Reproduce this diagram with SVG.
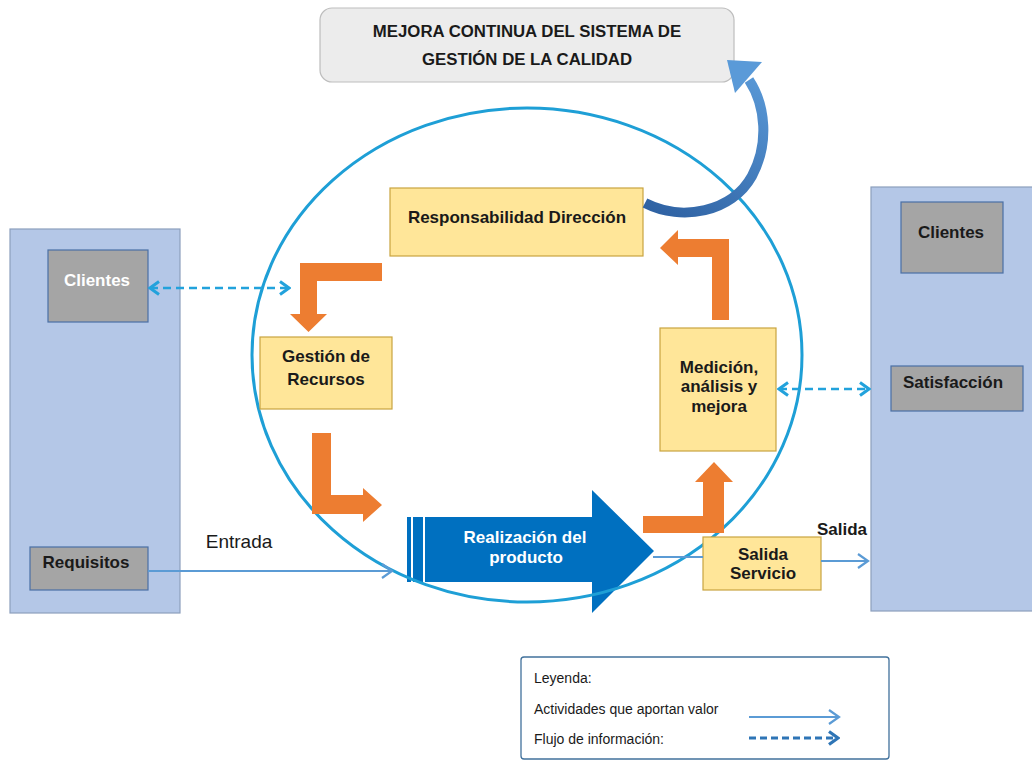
<svg xmlns="http://www.w3.org/2000/svg" width="1032" height="761" viewBox="0 0 1032 761">
<defs>
<style>
.lbl{font-family:"Liberation Sans",Arial,sans-serif;font-weight:bold;font-size:17px;fill:#1a1a1a;text-anchor:middle}
.wh{fill:#ffffff}
.panel{fill:#b4c7e7;stroke:#8c9fbd;stroke-width:1.2}
.gray{fill:#a5a5a5;stroke:#4a6fa5;stroke-width:1.2}
.yel{fill:#ffe699;stroke:#c9a440;stroke-width:1.2}
.orange{fill:#ed7d31}
.val{stroke:#5b9bd5;stroke-width:2.2;fill:none}
.info{stroke:#22a2dc;stroke-width:2.5;stroke-dasharray:8 5;fill:none}
.leg{font-family:"Liberation Sans",Arial,sans-serif;font-size:14px;fill:#1a1a1a}
</style>
<marker id="openArr" markerUnits="userSpaceOnUse" markerWidth="14" markerHeight="16" refX="12" refY="8" orient="auto">
<path d="M2,1 L12,8 L2,15" fill="none" stroke="#5b9bd5" stroke-width="2.2"/>
</marker>
<marker id="infoArr" markerUnits="userSpaceOnUse" markerWidth="14" markerHeight="16" refX="12" refY="8" orient="auto-start-reverse">
<path d="M3,1.5 L12,8 L3,14.5" fill="none" stroke="#22a2dc" stroke-width="3"/>
</marker>
<marker id="legInfo" markerUnits="userSpaceOnUse" markerWidth="14" markerHeight="16" refX="12" refY="8" orient="auto">
<path d="M3,1.5 L12,8 L3,14.5" fill="none" stroke="#2e75b6" stroke-width="3.2"/>
</marker>
<linearGradient id="curveGrad" gradientUnits="userSpaceOnUse" x1="650" y1="210" x2="745" y2="60">
<stop offset="0" stop-color="#2f62a3"/>
<stop offset="1" stop-color="#5a9ad8"/>
</linearGradient>
</defs>
<rect width="1032" height="761" fill="#ffffff"/>

<g id="mejora-continua">
<rect x="320" y="8" width="414" height="74" rx="12" fill="#ececec" stroke="#bdbdbd" stroke-width="1.2"/>
<text class="lbl" x="527" y="37" style="font-size:16.8px">MEJORA CONTINUA DEL SISTEMA DE</text>
<text class="lbl" x="527" y="65" style="font-size:16.8px">GESTIÓN DE LA CALIDAD</text>
</g>

<g id="panel-izquierdo">
<rect class="panel" x="10" y="229" width="170" height="384"/>
</g>
<g id="clientes-izq">
<rect class="gray" x="48" y="250" width="100" height="72"/>
<text class="lbl wh" x="97" y="286">Clientes</text>
</g>
<g id="requisitos">
<rect class="gray" x="30" y="547" width="118" height="43"/>
<text class="lbl" x="86" y="568">Requisitos</text>
</g>

<g id="panel-derecho">
<rect class="panel" x="871" y="187" width="170" height="424"/>
</g>
<g id="clientes-der">
<rect class="gray" x="901" y="202" width="102" height="71"/>
<text class="lbl" x="951" y="238">Clientes</text>
</g>
<g id="satisfaccion">
<rect class="gray" x="891" y="366" width="132" height="45"/>
<text class="lbl" x="953" y="388">Satisfacción</text>
</g>

<g id="realizacion-producto">
<rect x="407" y="517" width="4" height="65" fill="#0070c0"/>
<rect x="413" y="517" width="10" height="65" fill="#0070c0"/>
<polygon points="425,517 592,517 592,490 654,551 592,613 592,582 425,582" fill="#0070c0"/>
<text class="lbl wh" x="525" y="543">Realización del</text>
<text class="lbl wh" x="526" y="563">producto</text>
</g>

<g id="ciclo">
<ellipse cx="527" cy="355" rx="275" ry="247" fill="none" stroke="#1e9fd6" stroke-width="3"/>
</g>

<g id="responsabilidad-direccion">
<rect class="yel" x="390" y="188" width="253" height="68"/>
<text class="lbl" x="517" y="223">Responsabilidad Dirección</text>
</g>
<g id="gestion-recursos">
<rect class="yel" x="260" y="337" width="132" height="72"/>
<text class="lbl" x="326" y="362">Gestión de</text>
<text class="lbl" x="326" y="385">Recursos</text>
</g>
<g id="medicion-analisis-mejora">
<rect class="yel" x="660" y="328" width="116" height="123"/>
<text class="lbl" x="719" y="373">Medición,</text>
<text class="lbl" x="719" y="392">análisis y</text>
<text class="lbl" x="719" y="412">mejora</text>
</g>
<g id="salida-servicio">
<rect class="yel" x="703" y="537" width="118" height="53"/>
<text class="lbl" x="763" y="560">Salida</text>
<text class="lbl" x="763" y="579">Servicio</text>
</g>

<g id="connectors">
<polygon class="orange" points="382,263 300,263 300,314 290,314 308.5,332 327,314 317,314 317,281 382,281"/>
<polygon class="orange" points="312,433 331,433 331,495 363,495 363,488 382,505 363,522 363,514 312,514"/>
<polygon class="orange" points="643,516 703,516 703,482 695,482 714,462 733,482 724,482 724,533 643,533"/>
<polygon class="orange" points="729,320 712,320 712,257 678,257 678,265 660,248 678,230 678,239 729,239"/>
<path d="M645,203 C682,222 732,212 752,176 C769,144 766,106 749,80" fill="none" stroke="url(#curveGrad)" stroke-width="10"/>
<polygon points="727,60 762,62 735,93" fill="#5a9ad8"/>
<line class="val" x1="148" y1="571" x2="392" y2="571" marker-end="url(#openArr)"/>
<line class="val" x1="653" y1="557" x2="703" y2="557"/>
<line class="val" x1="821" y1="561" x2="868" y2="561" marker-end="url(#openArr)"/>
<line class="info" x1="150" y1="288" x2="289" y2="288" marker-start="url(#infoArr)" marker-end="url(#infoArr)"/>
<line class="info" x1="779" y1="389" x2="869" y2="389" marker-start="url(#infoArr)" marker-end="url(#infoArr)"/>
<text x="239" y="548" font-family="Liberation Sans, Arial, sans-serif" font-size="19" fill="#1a1a1a" text-anchor="middle">Entrada</text>
<text class="lbl" x="842" y="535">Salida</text>
</g>

<g id="leyenda">
<rect x="521" y="657" width="368" height="102" rx="3" fill="#ffffff" stroke="#41719c" stroke-width="1.3"/>
<text class="leg" x="534" y="683">Leyenda:</text>
<text class="leg" x="534" y="714">Actividades que aportan valor</text>
<text class="leg" x="534" y="744">Flujo de información:</text>
<line class="val" x1="749" y1="717" x2="839" y2="717" marker-end="url(#openArr)"/>
<line x1="749" y1="738" x2="838" y2="738" stroke="#2e75b6" stroke-width="3" stroke-dasharray="7 4" marker-end="url(#legInfo)"/>
</g>
</svg>
